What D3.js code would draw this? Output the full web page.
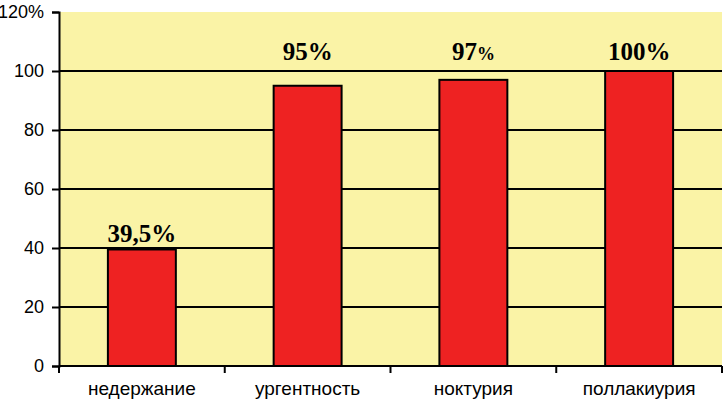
<!DOCTYPE html>
<html><head><meta charset="utf-8">
<script src="https://cdn.jsdelivr.net/npm/d3@7"></script>
<style>body{margin:0;background:#fff;}svg{display:block;}</style>
</head><body>
<script>
const categories = ["недержание", "ургентность", "ноктурия", "поллакиурия"];
const values = [39.5, 95, 97, 100];
const labelMain = ["39,5%", "95%", "97", "100%"];
const labelSmallPct = [false, false, true, false];
const yTicks = [0, 20, 40, 60, 80, 100, 120];

const W = 724, H = 404;
const m = {left: 59, right: 2, top: 12, bottom: 38};
const svg = d3.select("body").append("svg").attr("width", W).attr("height", H);
const x = d3.scaleBand().domain(categories).range([m.left, W - m.right]).paddingInner(0.59).paddingOuter(0.295);
const y = d3.scaleLinear().domain([0, 120]).range([H - m.bottom, m.top]);

svg.append("rect").attr("x", m.left).attr("y", m.top).attr("width", W - m.right - m.left).attr("height", y(0) - m.top).attr("fill", "#faf3a6");

// gridlines
svg.append("g").selectAll("line").data(yTicks.filter(d => d > 0 && d < 120)).join("line")
  .attr("x1", m.left).attr("x2", W - m.right).attr("y1", d => y(d)).attr("y2", d => y(d))
  .attr("stroke", "#000").attr("stroke-width", 2);

// bars
svg.append("g").selectAll("rect").data(values).join("rect")
  .attr("x", (d, i) => x(categories[i])).attr("width", x.bandwidth())
  .attr("y", d => y(d)).attr("height", d => y(0) - y(d))
  .attr("fill", "#ee2222").attr("stroke", "#000").attr("stroke-width", 2);

// y axis
const yAxis = d3.axisLeft(y).tickValues(yTicks).tickSize(7).tickPadding(8)
  .tickFormat(d => d === 120 ? "120%" : d);
const gy = svg.append("g").attr("transform", `translate(${m.left},0)`).call(yAxis);
gy.select(".domain").attr("stroke-width", 2);
gy.selectAll(".tick line").attr("stroke-width", 2);
gy.selectAll("text").attr("font-family", "Arial, 'Liberation Sans', sans-serif").attr("font-size", 18).attr("fill", "#000");

// x axis
const catEdges = [0, 1, 2, 3, 4].map(i => m.left + i * (W - m.right - m.left) / 4);
const gx = svg.append("g");
gx.append("line").attr("x1", m.left).attr("x2", W - m.right).attr("y1", y(0)).attr("y2", y(0)).attr("stroke", "#000").attr("stroke-width", 2);
gx.selectAll("line.t").data(catEdges).join("line").attr("class", "t")
  .attr("x1", d => d).attr("x2", d => d).attr("y1", y(0)).attr("y2", y(0) + 7).attr("stroke", "#000").attr("stroke-width", 2);
gx.selectAll("text").data(categories).join("text")
  .attr("x", d => x(d) + x.bandwidth() / 2).attr("y", y(0) + 29)
  .attr("text-anchor", "middle").attr("font-family", "Arial, 'Liberation Sans', sans-serif").attr("font-size", 19).text(d => d);

// value labels (tall bars get their label above the top gridline)
const lbl = svg.append("g").selectAll("text").data(values).join("text")
  .attr("x", (d, i) => x(categories[i]) + x.bandwidth() / 2)
  .attr("y", d => d >= 90 ? y(100) - 11 : y(d) - 7)
  .attr("text-anchor", "middle").attr("font-family", "'Liberation Serif', 'Times New Roman', serif")
  .attr("font-weight", "bold").attr("font-size", 25).attr("fill", "#000");
lbl.each(function(d, i) {
  const t = d3.select(this);
  t.append("tspan").text(labelMain[i]);
  if (labelSmallPct[i]) t.append("tspan").attr("font-size", 18).text("%");
});
</script>
</body></html>
